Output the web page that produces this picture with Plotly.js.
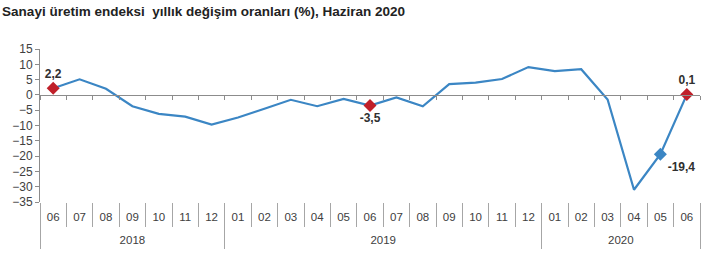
<!DOCTYPE html>
<html>
<head>
<meta charset="utf-8">
<script src="https://cdn.plot.ly/plotly-3.0.1.min.js"></script>
<style>html,body{margin:0;padding:0;background:#fff;}#chart{width:704px;height:254px;}</style>
</head>
<body>
<div id="chart"></div>
<script>
// Months (tick labels) and their years
const months = ['06','07','08','09','10','11','12',
                '01','02','03','04','05','06','07','08','09','10','11','12',
                '01','02','03','04','05','06'];
const years  = ['2018','2018','2018','2018','2018','2018','2018',
                '2019','2019','2019','2019','2019','2019','2019','2019','2019','2019','2019','2019',
                '2020','2020','2020','2020','2020','2020'];
// Annual change of the industrial production index (%)
const values = [2.2, 5.1, 2.0, -3.7, -6.2, -7.1, -9.7,
                -7.4, -4.5, -1.6, -3.7, -1.3, -3.5, -0.8, -3.7, 3.5, 4.0, 5.2, 9.1,
                7.8, 8.4, -1.5, -31.0, -19.4, 0.1];
// Highlighted, labelled points
const labelIdx = [0, 12, 23, 24];
const labelColors = ['#c0202a', '#c0202a', '#3b86c4', '#c0202a'];
const labelPos = ['top center', 'bottom center', 'bottom right', 'top center'];

const yTicks = [15, 10, 5, 0, -5, -10, -15, -20, -25, -30, -35];

// derived helpers (category keys, year groups)
const n = months.length;
const keys = months.map((m, i) => years[i] + '-' + m);
const idx = months.map((m, i) => i);
const yearNames = [], yearCenters = [], yearBounds = [-0.5];
years.forEach((y, i) => {
  if (i === n - 1 || years[i + 1] !== y) {
    const start = yearBounds[yearBounds.length - 1];
    yearBounds.push(i + 0.5);
    yearNames.push(y);
    yearCenters.push((start + i + 0.5) / 2);
  }
});

const font = 'Liberation Sans, Arial, sans-serif';
const txt = '#404040';
const ghost = (xa) => ({
  type: 'scatter', mode: 'lines', x: keys, y: values, xaxis: xa,
  line: {width: 0}, opacity: 0, hoverinfo: 'skip', showlegend: false
});

const traces = [
  ghost('x2'),
  ghost('x3'),
  {type: 'scatter', mode: 'lines', x: idx, y: values, xaxis: 'x4',
   line: {width: 0}, opacity: 0, hoverinfo: 'skip'},
  {type: 'scatter', mode: 'lines', x: idx, y: values, xaxis: 'x5',
   line: {width: 0}, opacity: 0, hoverinfo: 'skip'},
  {
    type: 'scatter', mode: 'lines',
    x: keys, y: values,
    line: {color: '#3b86c4', width: 2.2},
    hoverinfo: 'skip'
  },
  {
    type: 'scatter', mode: 'markers+text',
    x: labelIdx.map(i => keys[i]),
    y: labelIdx.map(i => values[i]),
    marker: {symbol: 'diamond', size: 10, color: labelColors},
    texttemplate: '%{y:.1f}',
    textposition: labelPos,
    textfont: {family: font, size: 12, color: '#303030', weight: 'bold'},
    cliponaxis: false,
    hoverinfo: 'skip'
  }
];

const catBase = {
  type: 'category', categoryorder: 'array', categoryarray: keys,
  range: [-0.5, n - 0.5], showgrid: false, zeroline: false
};

const layout = {
  width: 704, height: 254,
  margin: {l: 40, r: 4, t: 49, b: 52},
  paper_bgcolor: '#fff', plot_bgcolor: '#fff',
  separators: ',.',
  showlegend: false,
  title: {
    text: '<b>Sanayi üretim endeksi  yıllık değişim oranları (%), Haziran 2020</b>',
    x: 0.003, xref: 'container', xanchor: 'left',
    y: 0.955, yref: 'container', yanchor: 'middle',
    font: {family: font, size: 13.5, color: '#222'}
  },
  // month labels
  xaxis: Object.assign({}, catBase, {
    showline: false, ticks: '',
    tickmode: 'array', tickvals: keys, ticktext: months,
    ticklabelstandoff: 6,
    tickfont: {family: font, size: 11.5, color: txt}
  }),
  // horizontal axis line crossing at zero, with small boundary ticks
  xaxis2: Object.assign({}, catBase, {
    overlaying: 'x', anchor: 'free', position: 0.7, side: 'bottom',
    showticklabels: false, showline: true, linecolor: '#8c8c8c', linewidth: 1,
    tickson: 'boundaries', ticks: 'outside', ticklen: 4, tickcolor: '#8c8c8c', tickwidth: 1
  }),
  // month separators below the plot
  xaxis3: Object.assign({}, catBase, {
    overlaying: 'x', anchor: 'y', side: 'bottom',
    showticklabels: false, showline: false,
    tickson: 'boundaries', ticks: 'outside', ticklen: 24, tickcolor: '#a6a6a6', tickwidth: 1
  }),
  // year labels
  xaxis4: {
    type: 'linear', overlaying: 'x', anchor: 'y', side: 'bottom',
    range: [-0.5, n - 0.5], showgrid: false, zeroline: false, showline: false,
    tickmode: 'array', tickvals: yearCenters, ticktext: yearNames, ticks: '',
    ticklabelstandoff: 29,
    tickfont: {family: font, size: 11.5, color: txt}
  },
  // year separators
  xaxis5: {
    type: 'linear', overlaying: 'x', anchor: 'y', side: 'bottom',
    range: [-0.5, n - 0.5], showgrid: false, zeroline: false, showline: false,
    showticklabels: false,
    tickmode: 'array', tickvals: yearBounds,
    ticks: 'outside', ticklen: 46, tickcolor: '#a6a6a6', tickwidth: 1
  },
  yaxis: {
    range: [-35, 15],
    tickmode: 'array', tickvals: yTicks,
    showgrid: false, zeroline: false,
    showline: true, linecolor: '#8c8c8c', linewidth: 1,
    ticks: 'outside', ticklen: 4, tickcolor: '#8c8c8c',
    tickfont: {family: font, size: 12, color: txt}
  }
};

Plotly.newPlot('chart', traces, layout, {displayModeBar: false, staticPlot: true});
</script>
</body>
</html>
